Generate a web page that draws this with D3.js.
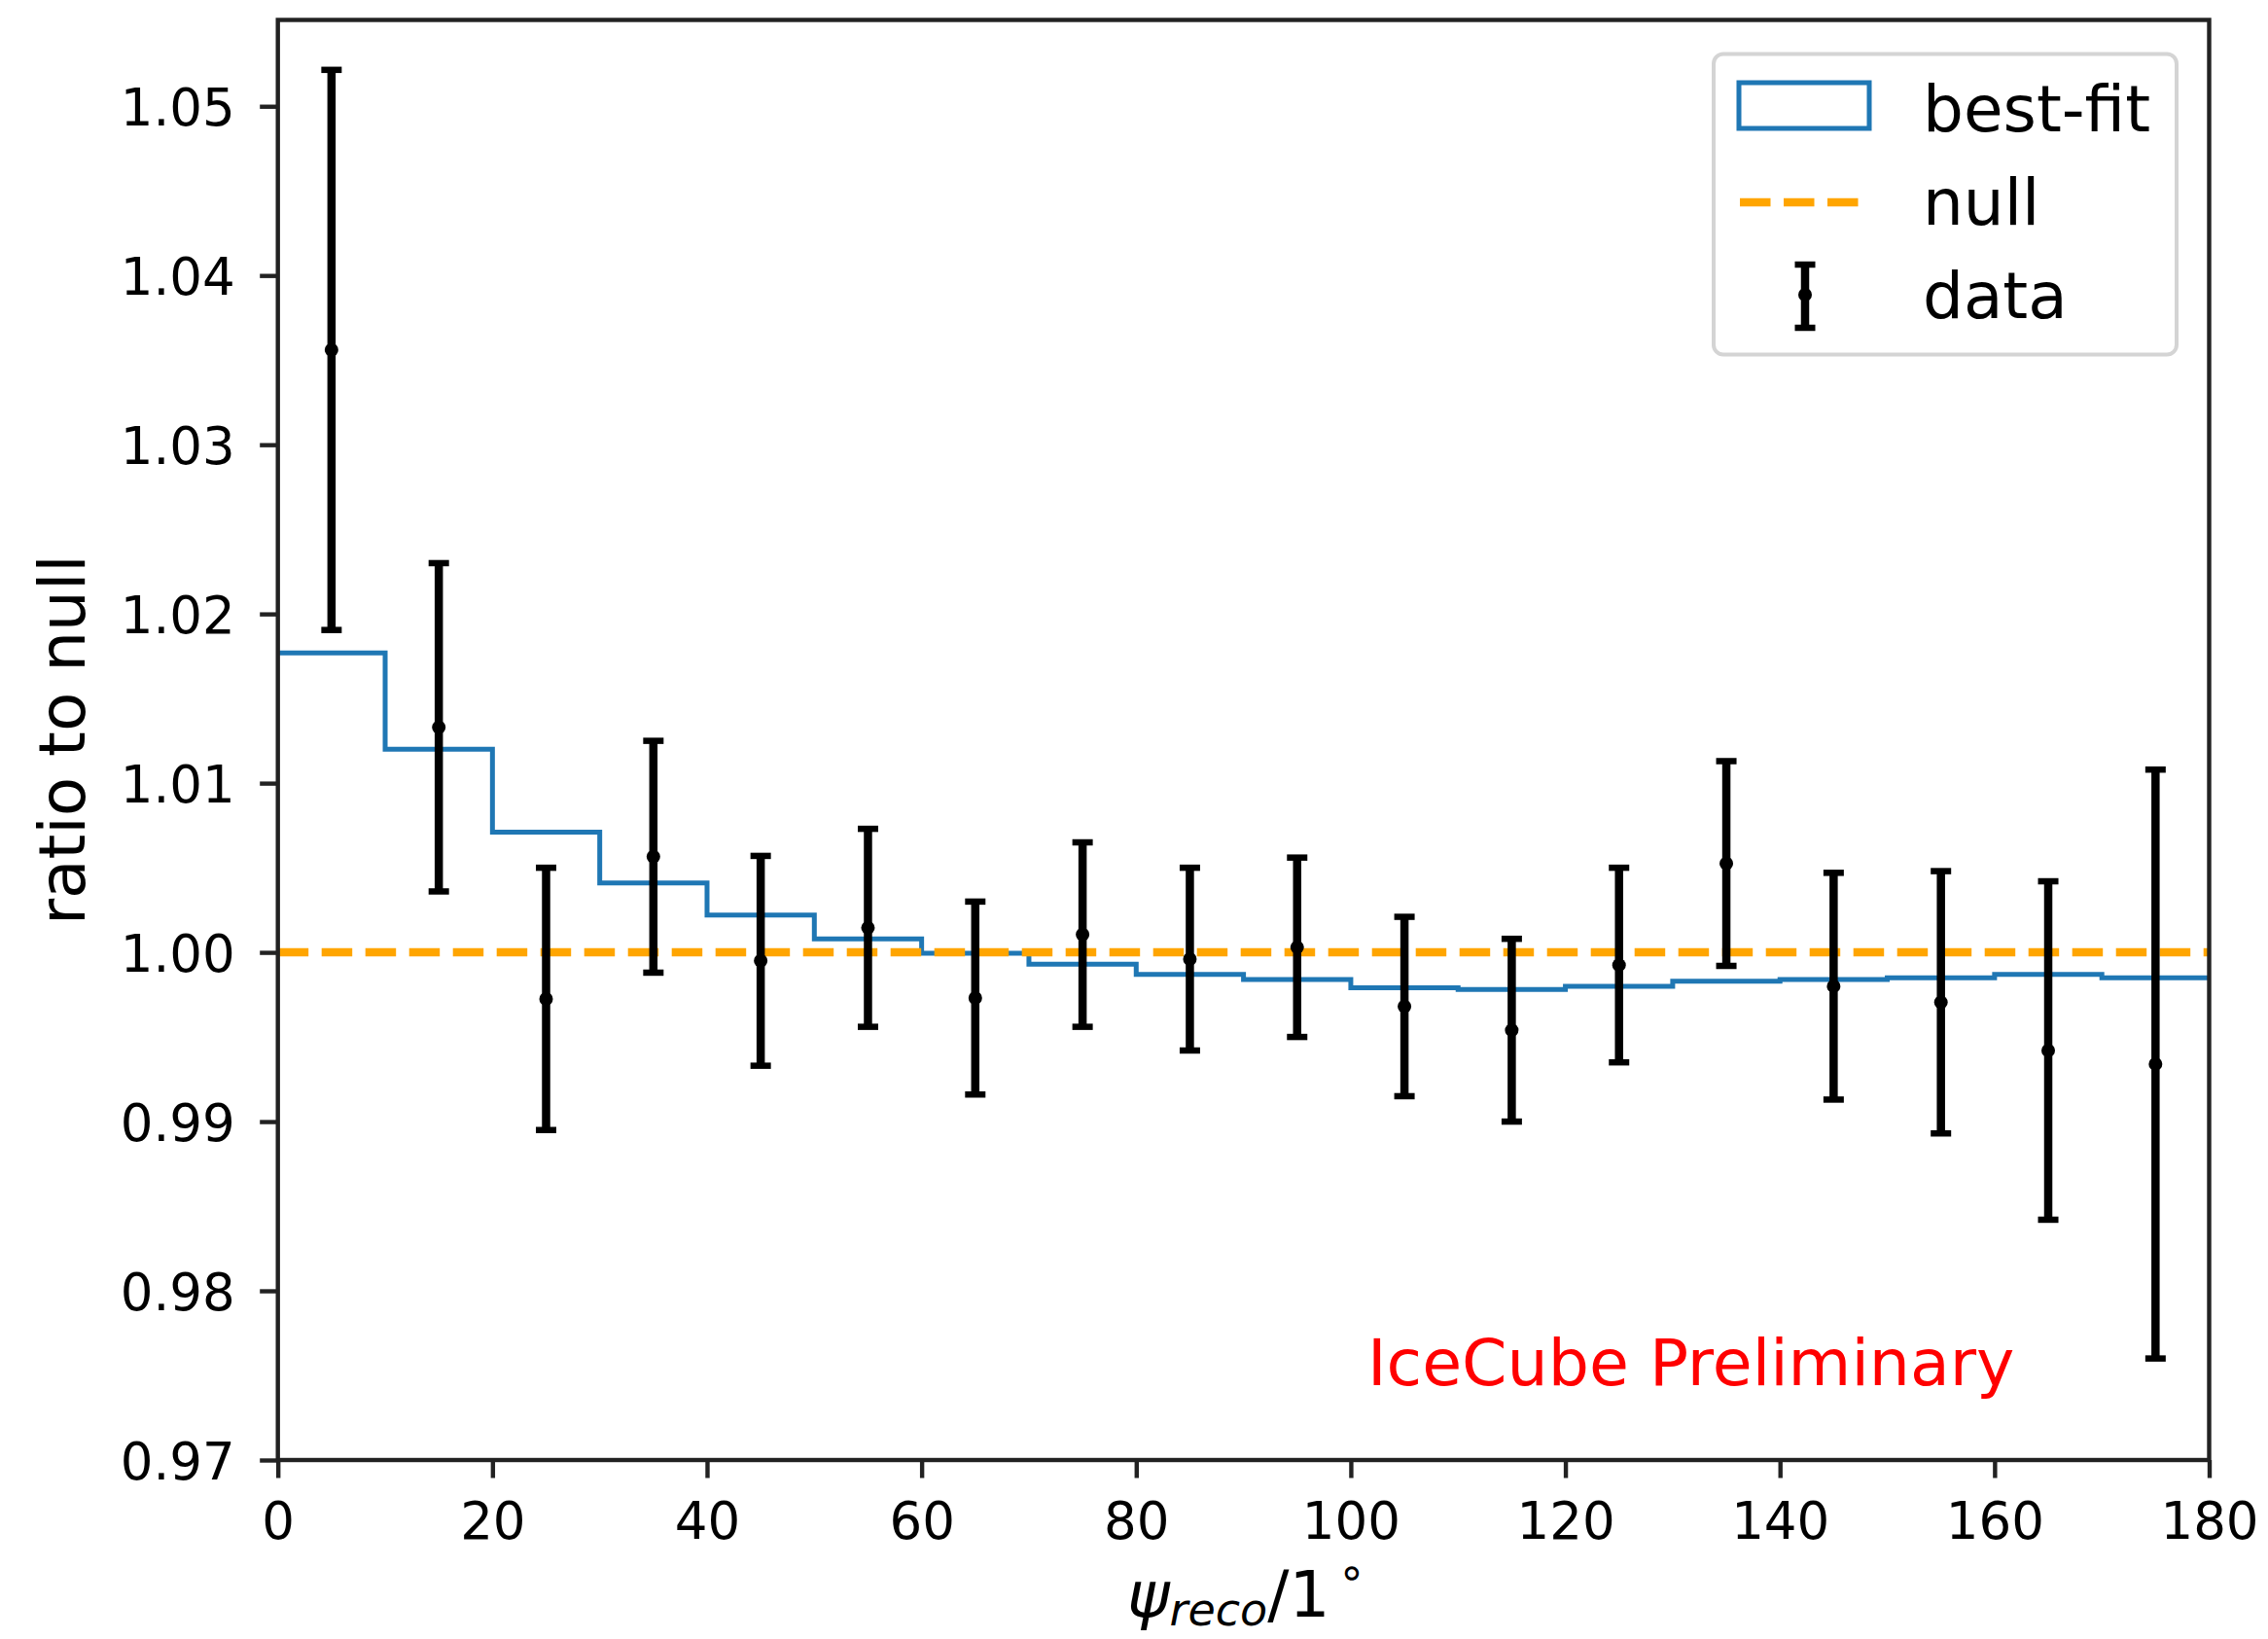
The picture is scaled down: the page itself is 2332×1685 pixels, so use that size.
<!DOCTYPE html>
<html>
<head>
<meta charset="utf-8">
<script src="https://cdn.jsdelivr.net/npm/d3@7"></script>
<style>
  html, body { margin: 0; padding: 0; background: #fff; }
  svg { display: block; }
  text { font-family: "DejaVu Sans", sans-serif; }
</style>
</head>
<body>
<svg id="chart" width="2332" height="1685"></svg>
<script>
// Reconstructed opening-angle bins (degrees)
const binEdges = [0, 10, 20, 30, 40, 50, 60, 70, 80, 90, 100, 110, 120, 130, 140, 150, 160, 170, 180];
const binCenters = [5, 15, 25, 35, 45, 55, 65, 75, 85, 95, 105, 115, 125, 135, 145, 155, 165, 175];

// Best-fit expectation relative to the null hypothesis, one value per bin
const bestFit = [1.0177, 1.0120, 1.0071, 1.0041, 1.0022, 1.0008, 0.99995, 0.9993, 0.9987,
                 0.9984, 0.9979, 0.9978, 0.9980, 0.9983, 0.9984, 0.9985, 0.9987, 0.9985];

// Observed ratio to null and its uncertainty
const dataRatio = [1.0356, 1.0133, 0.99725, 1.00565, 0.9995, 1.00145, 0.9973, 1.00105, 0.9996,
                   1.0003, 0.9968, 0.9954, 0.99925, 1.00525, 0.998, 0.99705, 0.9942, 0.9934];
const dataErr = [0.01655, 0.0097, 0.00775, 0.00685, 0.0062, 0.00585, 0.0057, 0.00545, 0.0054,
                 0.0053, 0.0053, 0.0054, 0.00575, 0.00605, 0.0067, 0.00775, 0.01, 0.0174];

const nullLevel = 1.0;

const xTicks = [0, 20, 40, 60, 80, 100, 120, 140, 160, 180];
const yTicks = [0.97, 0.98, 0.99, 1.00, 1.01, 1.02, 1.03, 1.04, 1.05];

const legendLabels = ["best-fit", "null", "data"];

const svg = d3.select("#chart");

const plot = { left: 285.7, right: 2271.5, top: 20.5, bottom: 1501 };

const x = d3.scaleLinear().domain([0, 180]).range([plot.left, plot.right]);
const y = d3.scaleLinear().domain([0.97, 1.0551]).range([plot.bottom, plot.top]);

const spineColor = "#222";
const tickFont = 53;
const labelFont = 66;

// Best-fit histogram outline (step)
const stepPts = bestFit.map((v, i) => [binEdges[i], v]);
stepPts.push([binEdges[binEdges.length - 1], bestFit[bestFit.length - 1]]);
svg.append("path")
  .attr("d", d3.line().x(d => x(d[0])).y(d => y(d[1])).curve(d3.curveStepAfter)(stepPts))
  .attr("fill", "none")
  .attr("stroke", "#1f77b4")
  .attr("stroke-width", 5)
  .attr("stroke-linejoin", "miter");

// Null reference line
svg.append("line")
  .attr("x1", x(0)).attr("x2", x(180))
  .attr("y1", y(nullLevel)).attr("y2", y(nullLevel))
  .attr("stroke", "#ffa500")
  .attr("stroke-width", 8.5)
  .attr("stroke-dasharray", "31.5,13.5");

// Data points with error bars
const capHalf = 10.5;
const eb = svg.append("g").attr("class", "errorbars");
binCenters.forEach((c, i) => {
  const lo = dataRatio[i] - dataErr[i];
  const hi = dataRatio[i] + dataErr[i];
  const g = eb.append("g");
  g.append("line")
    .attr("x1", x(c)).attr("x2", x(c))
    .attr("y1", y(lo)).attr("y2", y(hi))
    .attr("stroke", "#000").attr("stroke-width", 8.5);
  [lo, hi].forEach(v => {
    g.append("line")
      .attr("x1", x(c) - capHalf).attr("x2", x(c) + capHalf)
      .attr("y1", y(v)).attr("y2", y(v))
      .attr("stroke", "#000").attr("stroke-width", 6.5);
  });
  g.append("circle")
    .attr("cx", x(c)).attr("cy", y(dataRatio[i]))
    .attr("r", 7).attr("fill", "#000");
});

// Axes
const xAxis = d3.axisBottom(x).tickValues(xTicks).tickSize(18.5).tickPadding(0).tickFormat(d3.format("d"));
const yAxis = d3.axisLeft(y).tickValues(yTicks).tickSize(18.5).tickPadding(0).tickFormat(d3.format(".2f"));

const gx = svg.append("g").attr("transform", `translate(0,${plot.bottom})`).call(xAxis);
const gy = svg.append("g").attr("transform", `translate(${plot.left},0)`).call(yAxis);

[gx, gy].forEach(g => {
  g.select(".domain").remove();
  g.selectAll(".tick line").attr("stroke", spineColor).attr("stroke-width", 4.4);
  g.selectAll(".tick text")
    .attr("fill", "#000")
    .style("font-family", "'DejaVu Sans', sans-serif")
    .style("font-size", tickFont + "px");
});
gx.selectAll(".tick text").attr("y", 81).attr("dy", null);
gy.selectAll(".tick text").attr("x", -44).attr("dy", "0.3645em");

// Frame
svg.append("rect")
  .attr("x", plot.left).attr("y", plot.top)
  .attr("width", plot.right - plot.left).attr("height", plot.bottom - plot.top)
  .attr("fill", "none").attr("stroke", spineColor).attr("stroke-width", 4.4);

// Axis labels
svg.append("text")
  .attr("transform", `translate(86.5,${(plot.top + plot.bottom) / 2}) rotate(-90)`)
  .attr("text-anchor", "middle")
  .style("font-size", labelFont + "px")
  .attr("fill", "#000")
  .text("ratio to null");

const xl = svg.append("text")
  .attr("x", (plot.left + plot.right) / 2 + 3)
  .attr("y", 1662)
  .attr("text-anchor", "middle")
  .style("font-size", labelFont + "px")
  .attr("fill", "#000");
xl.append("tspan").style("font-style", "italic").text("ψ");
xl.append("tspan").style("font-style", "italic").style("font-size", "46px").attr("dy", 9).text("reco");
xl.append("tspan").attr("dy", -9).text("/1");
xl.append("tspan").style("font-size", "46px").attr("dx", 8).attr("dy", -30).text("∘");

// Annotation
svg.append("text")
  .attr("x", 1406)
  .attr("y", 1424)
  .style("font-size", "66.5px")
  .attr("fill", "#ff0000")
  .text("IceCube Preliminary");

// Legend
const lg = svg.append("g").attr("class", "legend");
lg.append("rect")
  .attr("x", 1762).attr("y", 55.5)
  .attr("width", 476).attr("height", 309)
  .attr("rx", 10).attr("ry", 10)
  .attr("fill", "#fff").attr("fill-opacity", 0.8)
  .attr("stroke", "#d4d4d4").attr("stroke-width", 4);

const rowBase = [135, 231, 327];
const rowMid = [109, 208, 303];

lg.append("rect")
  .attr("x", 1788).attr("y", 85)
  .attr("width", 134).attr("height", 47)
  .attr("fill", "none").attr("stroke", "#1f77b4").attr("stroke-width", 5);

lg.append("line")
  .attr("x1", 1789).attr("x2", 1924)
  .attr("y1", rowMid[1]).attr("y2", rowMid[1])
  .attr("stroke", "#ffa500").attr("stroke-width", 8.5)
  .attr("stroke-dasharray", "31.5,13.5");

const lx = 1856;
lg.append("line").attr("x1", lx).attr("x2", lx).attr("y1", 272).attr("y2", 337)
  .attr("stroke", "#000").attr("stroke-width", 8.5);
[272, 337].forEach(v => {
  lg.append("line").attr("x1", lx - capHalf).attr("x2", lx + capHalf).attr("y1", v).attr("y2", v)
    .attr("stroke", "#000").attr("stroke-width", 6.5);
});
lg.append("circle").attr("cx", lx).attr("cy", rowMid[2]).attr("r", 7).attr("fill", "#000");

legendLabels.forEach((t, i) => {
  lg.append("text")
    .attr("x", 1977).attr("y", rowBase[i])
    .style("font-size", labelFont + "px")
    .attr("fill", "#000")
    .text(t);
});
</script>
</body>
</html>
